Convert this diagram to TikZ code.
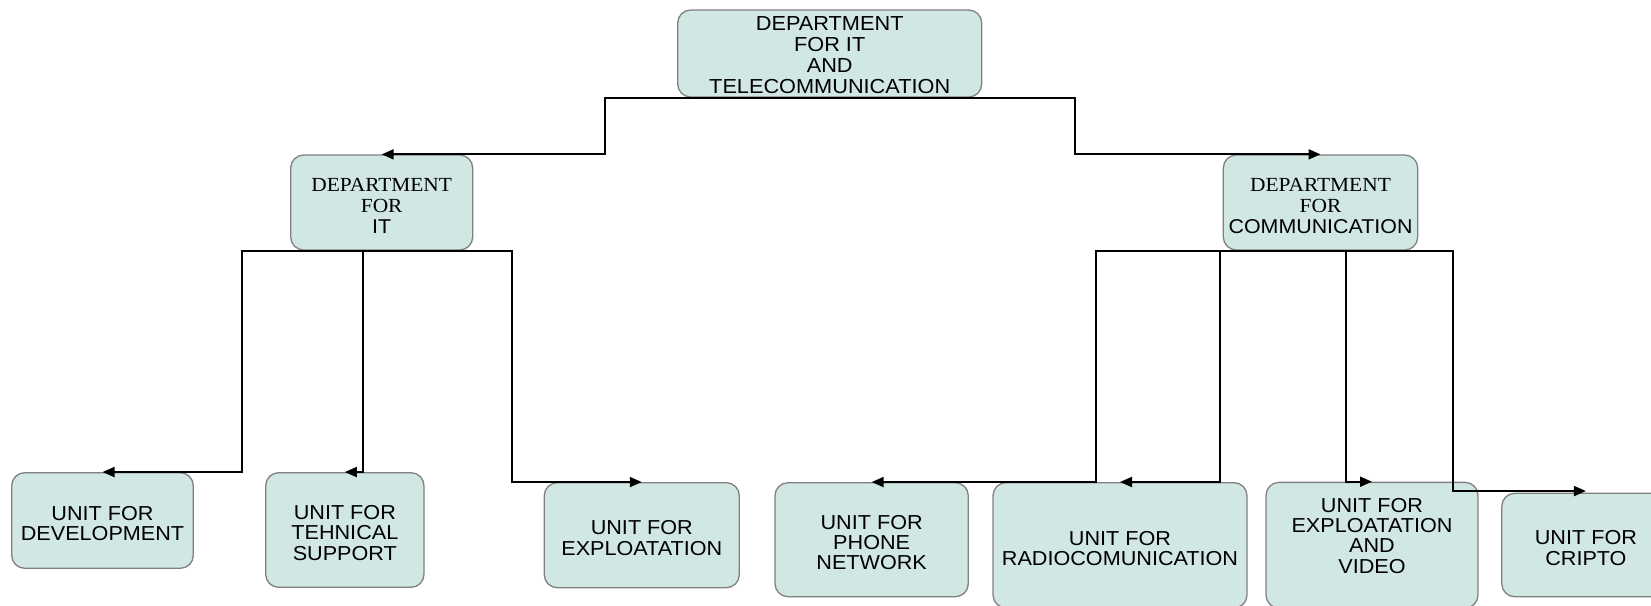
\documentclass[tikz,border=0pt]{standalone}
\usepackage{fontspec}
\setmainfont[FakeStretch=1.07]{Liberation Sans}
\newfontfamily\myserif[FakeStretch=1.07]{Liberation Serif}
\usetikzlibrary{arrows.meta}
\definecolor{boxfill}{RGB}{208,231,228}
\definecolor{boxborder}{RGB}{128,128,128}
\newcommand\myunitfont{\fontsize{20.2}{20.3}\selectfont}
\newcommand\mytopfont{\fontsize{20.3}{21}\selectfont}
\newcommand\mydeptfont{\fontsize{20}{20.8}\selectfont}
\newcommand\mystrut{\rule{0pt}{20pt}}
\begin{document}
\begin{tikzpicture}[x=1pt,y=-1pt,
  box/.style={draw=boxborder, line width=1.3pt, fill=boxfill, rounded corners=13pt,
    inner sep=0pt, align=center, font=\myunitfont},
  conn/.style={line width=1.9pt, black, -{Triangle[length=12pt,width=10pt]}}]
\useasboundingbox (0,0) rectangle (1651,605);
% nodes
\node[box, font=\mytopfont, minimum width=304pt, minimum height=87pt] (top) at (829.7,53.5)
  {\rule{0pt}{17.5pt}DEPARTMENT\\FOR IT\\AND\\TELECOMMUNICATION};
\node[box, font=\mydeptfont, minimum width=182pt, minimum height=95pt] (it) at (381.7,202.5)
  {\mystrut{\myserif DEPARTMENT}\\{\myserif FOR}\\IT};
\node[box, font=\mydeptfont, minimum width=194.4pt, minimum height=95pt] (comm) at (1320.5,202.5)
  {\mystrut{\myserif DEPARTMENT}\\{\myserif FOR}\\COMMUNICATION};
\node[box, minimum width=181.6pt, minimum height=95.6pt] (dev) at (102.5,520.5)
  {\mystrut UNIT FOR\\DEVELOPMENT};
\node[box, minimum width=158.3pt, minimum height=114.6pt] (tech) at (344.85,530)
  {\mystrut UNIT FOR\\TEHNICAL\\SUPPORT};
\node[box, minimum width=195pt, minimum height=105pt] (expl) at (641.8,535.2)
  {\mystrut UNIT FOR\\EXPLOATATION};
\node[box, minimum width=193.3pt, minimum height=114pt] (phone) at (871.65,539.7)
  {\mystrut UNIT FOR\\PHONE\\NETWORK};
\node[box, minimum width=254pt, minimum height=125.3pt] (radio) at (1120,545.3)
  {\mystrut UNIT FOR\\RADIOCOMUNICATION};
\node[box, minimum width=212pt, minimum height=125.7pt] (expv) at (1372,545.2)
  {UNIT FOR\\EXPLOATATION\\AND\\VIDEO\rule[-19pt]{0pt}{19pt}};
\node[box, minimum width=168.3pt, minimum height=103.4pt] (cripto) at (1585.9,545)
  {\mystrut UNIT FOR\\CRIPTO};
% junction coordinates
\coordinate (jl) at (605,126);
\coordinate (jr) at (1075,126);
\coordinate (jdev) at (242,360);
\coordinate (jtech) at (363.3,360);
\coordinate (jexpl) at (511.7,360);
\coordinate (jphone) at (1096,360);
\coordinate (jradio) at (1220,360);
\coordinate (jexpv) at (1346,360);
\coordinate (jcripto) at (1453.3,360);
% connectors
\draw[conn] (top.south) -| (jl) |- (it.north);
\draw[conn] (top.south) -| (jr) |- (comm.north);
\draw[conn] (it.south) -| (jdev) |- (dev.north);
\draw[conn] (it.south) -| (jtech) |- (tech.north);
\draw[conn] (it.south) -| (jexpl) |- (expl.north);
\draw[conn] (comm.south) -| (jphone) |- (phone.north);
\draw[conn] (comm.south) -| (jradio) |- (radio.north);
\draw[conn] (comm.south) -| (jexpv) |- (expv.north);
\draw[conn] (comm.south) -| (jcripto) |- ([yshift=1.6pt]cripto.north);
\end{tikzpicture}
\end{document}
